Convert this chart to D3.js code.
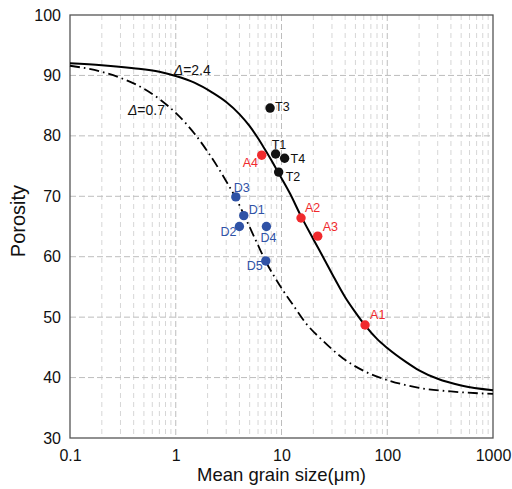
<!DOCTYPE html>
<html>
<head>
<meta charset="utf-8">
<script src="https://cdn.jsdelivr.net/npm/d3@7"></script>
<style>
  body { margin: 0; background: #fff; }
  svg { font-family: Arial, 'Liberation Sans', sans-serif; }
</style>
</head>
<body>
<div id="chart"></div>
<script>
// Sample names, grain size (um) and porosity
const names = ['T1', 'T2', 'T3', 'T4', 'A1', 'A2', 'A3', 'A4', 'D1', 'D2', 'D3', 'D4', 'D5'];
const grainSize = [8.8, 9.4, 7.8, 10.7, 61.7, 15.3, 22.0, 6.5, 4.4, 4.0, 3.7, 7.2, 7.1];
const porosity = [77.0, 74.0, 84.6, 76.3, 48.7, 66.4, 63.4, 76.8, 66.8, 65.0, 69.9, 65.0, 59.3];
const group = ['T', 'T', 'T', 'T', 'A', 'A', 'A', 'A', 'D', 'D', 'D', 'D', 'D'];

// Model curves
const curveHighX = [0.1, 0.2, 0.4, 0.7, 1.0, 1.5, 2.2, 3.0, 4.0, 5.0, 6.0, 7.0, 8.0, 9.0, 10, 12, 15, 20, 25, 32, 40, 50, 62, 80, 100, 150, 200, 300, 500, 1000];
const curveHighY = [92.0, 91.7, 91.2, 90.6, 89.9, 88.8, 87.2, 85.6, 83.6, 81.6, 79.6, 77.7, 76.0, 74.4, 73.0, 70.5, 67.0, 62.9, 59.8, 56.3, 53.3, 50.8, 48.6, 46.4, 44.9, 42.6, 41.2, 39.8, 38.7, 37.9];
const curveLowX = [0.1, 0.2, 0.3, 0.5, 0.7, 1.0, 1.5, 2.0, 2.5, 3.0, 3.7, 4.4, 5.0, 6.0, 7.1, 8.5, 10, 13, 17, 25, 38, 60, 100, 200, 400, 1000];
const curveLowY = [91.6, 90.6, 89.6, 87.8, 86.1, 83.8, 80.4, 77.4, 74.8, 72.5, 69.7, 67.0, 64.9, 61.9, 59.2, 56.8, 54.8, 51.9, 49.0, 46.0, 43.2, 41.1, 39.6, 38.3, 37.7, 37.3];

const xTicks = [0.1, 1, 10, 100, 1000];
const yTicks = [30, 40, 50, 60, 70, 80, 90, 100];

const colors = { T: '#111111', A: '#f02a2d', D: '#2f52a6' };
// label offsets relative to each dot [dx, dy]
const labelOffset = {
  T1: [-4, -5], T2: [7, 9], T3: [5, 3], T4: [6, 5],
  A1: [5, -6], A2: [4, -6], A3: [5, -5], A4: [-19, 12],
  D1: [5, -2], D2: [-19, 9], D3: [-2, -5], D4: [-6, 15], D5: [-19, 9]
};

const width = 512;
const height = 489;
const margin = { top: 15, right: 19, bottom: 51, left: 70 };
const innerW = width - margin.left - margin.right;
const innerH = height - margin.top - margin.bottom;

const svg = d3.select('#chart').append('svg')
    .attr('width', width)
    .attr('height', height);

const g = svg.append('g')
    .attr('transform', `translate(${margin.left},${margin.top})`);

const x = d3.scaleLog().domain([0.1, 1000]).range([0, innerW]);
const y = d3.scaleLinear().domain([30, 100]).range([innerH, 0]);

// Minor vertical grid lines
const minor = [];
[0.1, 1, 10, 100].forEach((d) => {
  for (let k = 2; k <= 9; k += 1) minor.push(d * k);
});
g.append('g').selectAll('line')
    .data(minor)
  .enter().append('line')
    .attr('x1', d => x(d)).attr('x2', d => x(d))
    .attr('y1', 0).attr('y2', innerH)
    .attr('stroke', '#d6d6d6')
    .attr('stroke-width', 1)
    .attr('stroke-dasharray', '5,4');

// Major grid lines
g.append('g').selectAll('line')
    .data([1, 10, 100])
  .enter().append('line')
    .attr('x1', d => x(d)).attr('x2', d => x(d))
    .attr('y1', 0).attr('y2', innerH)
    .attr('stroke', '#bdbdbd')
    .attr('stroke-dasharray', '6,3');
g.append('g').selectAll('line')
    .data(yTicks.slice(1, -1))
  .enter().append('line')
    .attr('x1', 0).attr('x2', innerW)
    .attr('y1', d => y(d)).attr('y2', d => y(d))
    .attr('stroke', '#bdbdbd')
    .attr('stroke-dasharray', '6,3');

// Frame
g.append('rect')
    .attr('width', innerW)
    .attr('height', innerH)
    .attr('fill', 'none')
    .attr('stroke', '#555')
    .attr('stroke-width', 1.3);

// Axes (labels only)
const xAxis = g.append('g')
    .attr('transform', `translate(0,${innerH})`)
    .call(d3.axisBottom(x).tickValues(xTicks).tickSize(0).tickPadding(12)
      .tickFormat(d => String(d)));
const yAxis = g.append('g')
    .call(d3.axisLeft(y).tickValues(yTicks).tickSize(0).tickPadding(9));
[xAxis, yAxis].forEach((a) => {
  a.select('.domain').remove();
  a.selectAll('text').attr('font-size', 16).attr('fill', '#111')
      .attr('font-family', "Arial, 'Liberation Sans', sans-serif");
});

// Curves
const line = d3.line()
    .x(d => x(d[0]))
    .y(d => y(d[1]))
    .curve(d3.curveMonotoneX);

g.append('path')
    .datum(curveHighX.map((v, i) => [v, curveHighY[i]]))
    .attr('d', line)
    .attr('fill', 'none')
    .attr('stroke', '#000')
    .attr('stroke-width', 2);

g.append('path')
    .datum(curveLowX.map((v, i) => [v, curveLowY[i]]))
    .attr('d', line)
    .attr('fill', 'none')
    .attr('stroke', '#000')
    .attr('stroke-width', 1.8)
    .attr('stroke-dasharray', '10,4,1.6,4');

// Curve labels
const curveLabel = (px, py, val) => {
  const t = g.append('text')
      .attr('x', px).attr('y', py)
      .attr('font-size', 14)
      .attr('fill', '#111');
  t.append('tspan').attr('font-style', 'italic').text('Δ');
  t.append('tspan').text(`=${val}`);
};
curveLabel(x(1) - 2, y(90) - 0.5, '2.4');
curveLabel(x(0.353), y(83.45), '0.7');

// Points
const pts = names.map((n, i) => ({
  name: n, gs: grainSize[i], por: porosity[i], grp: group[i]
}));

g.append('g').selectAll('circle')
    .data(pts)
  .enter().append('circle')
    .attr('cx', d => x(d.gs))
    .attr('cy', d => y(d.por))
    .attr('r', 4.7)
    .attr('fill', d => colors[d.grp]);

g.append('g').selectAll('text')
    .data(pts)
  .enter().append('text')
    .attr('x', d => x(d.gs) + labelOffset[d.name][0])
    .attr('y', d => y(d.por) + labelOffset[d.name][1])
    .attr('font-size', 12.5)
    .attr('fill', d => colors[d.grp])
    .text(d => d.name);

// Axis titles
svg.append('text')
    .attr('x', margin.left + innerW / 2)
    .attr('y', 481)
    .attr('text-anchor', 'middle')
    .attr('font-size', 18.5)
    .attr('fill', '#111')
    .text('Mean grain size(μm)');

svg.append('text')
    .attr('transform', `translate(25,221) rotate(-90)`)
    .attr('text-anchor', 'middle')
    .attr('font-size', 20)
    .attr('fill', '#111')
    .text('Porosity');
</script>
</body>
</html>
